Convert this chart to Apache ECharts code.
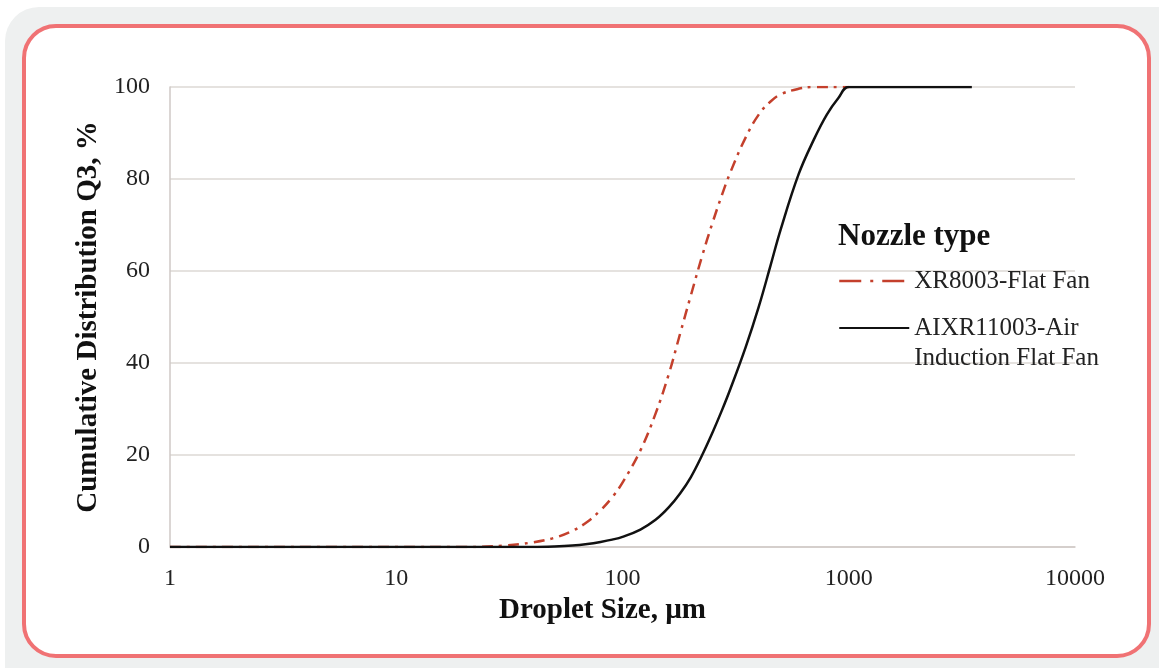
<!DOCTYPE html>
<html>
<head>
<meta charset="utf-8">
<title>Droplet size distribution</title>
<script src="https://cdn.jsdelivr.net/npm/echarts@6/dist/echarts.min.js"></script>
<style>
  html, body { margin: 0; padding: 0; background: #fff; }
  body { width: 1159px; height: 668px; position: relative; overflow: hidden; }
  .outer { position: absolute; left: 5px; top: 7px; width: 1190px; height: 700px; background: #eef0f0; border-radius: 34px; }
  .card { position: absolute; left: 22px; top: 24px; width: 1121px; height: 626px; background: #fff; border: 4px solid #f07274; border-radius: 34px; }
  #main { position: absolute; left: 0; top: 0; width: 1159px; height: 668px; }
</style>
</head>
<body>
<div class="outer"></div>
<div class="card"></div>
<div id="main"></div>
<script>
// droplet sizes (µm)
const sizes = [1, 10, 20, 30, 40, 50, 60, 70, 80, 90, 100, 120, 140, 160, 180, 200, 225, 250, 275, 300, 350, 400, 450, 500, 600, 700, 800, 900, 1000, 2000, 3500];

// cumulative distribution Q3 (%)
const flatFan = [0, 0, 0, 0.3, 1, 2, 3.5, 5.5, 8, 10.8, 14, 21, 29, 37.5, 46.5, 54.5, 63.3, 70.5, 76.5, 81.5, 89, 94, 96.8, 98.4, 99.6, 100, 100, 100, 100, null, null];
const airInduction = [0, 0, 0, 0, 0, 0.1, 0.3, 0.65, 1.1, 1.6, 2.2, 3.8, 5.9, 8.6, 11.7, 15.1, 20, 24.9, 29.7, 34.4, 43.4, 52.2, 61, 69, 81, 88.5, 94, 97.6, 100, 100, 100];

const seriesNames = ['XR8003-Flat Fan', 'AIXR11003-Air'];
const legendLabels = ['XR8003-Flat Fan', ' \nAIXR11003-Air\nInduction Flat Fan'];
const yTicks = [0, 20, 40, 60, 80, 100];

const serif = '"Liberation Serif", "Times New Roman", serif';
const myChart = echarts.init(document.getElementById('main'));

function pairs(vals) {
  return sizes.map((s, i) => [s, vals[i]]).filter(p => p[1] != null);
}

const options = {
  animation: false,
  textStyle: { fontFamily: serif },
  title: {
    text: 'Nozzle type',
    left: 833,
    top: 216,
    textStyle: { fontFamily: serif, fontSize: 31, fontWeight: 'bold', color: '#111' }
  },
  legend: {
    orient: 'vertical',
    left: 833,
    top: 261,
    itemWidth: 70,
    itemHeight: 14,
    itemGap: -13,
    itemStyle: { color: 'transparent', borderColor: 'transparent', borderWidth: 0, opacity: 0 },
    data: [
      { name: seriesNames[0], lineStyle: { type: [22, 9, 3, 9], width: 2.5 } },
      { name: seriesNames[1] }
    ],
    formatter: name => legendLabels[seriesNames.indexOf(name)],
    textStyle: { fontFamily: serif, fontSize: 25, color: '#222', lineHeight: 30 }
  },
  grid: { left: 170, right: 84, top: 87, bottom: 121 },
  xAxis: {
    type: 'log',
    logBase: 10,
    min: 1,
    max: 10000,
    name: 'Droplet Size, µm',
    nameLocation: 'middle',
    nameGap: 47,
    nameTextStyle: { fontFamily: serif, fontSize: 29, fontWeight: 'bold', color: '#111', padding: [0, 40, 0, 0] },
    axisLine: { lineStyle: { color: '#cfc9c6', width: 1.5 } },
    axisTick: { show: false },
    splitLine: { show: false },
    minorTick: { show: false },
    axisLabel: { fontFamily: serif, fontSize: 24, color: '#222', margin: 20, formatter: v => String(v) }
  },
  yAxis: {
    type: 'value',
    min: 0,
    max: 100,
    interval: 20,
    name: 'Cumulative Distribution Q3, %',
    nameLocation: 'middle',
    nameGap: 66,
    nameTextStyle: { fontFamily: serif, fontSize: 29, fontWeight: 'bold', color: '#111' },
    axisLine: { show: true, lineStyle: { color: '#cfc9c6', width: 1.5 } },
    axisTick: { show: false },
    splitLine: { lineStyle: { color: '#ddd8d5', width: 1.5 } },
    axisLabel: {
      fontFamily: serif, fontSize: 24, color: '#222', margin: 20,
      formatter: v => yTicks.includes(v) ? String(v) : ''
    }
  },
  series: [
    {
      name: seriesNames[0],
      type: 'line',
      data: pairs(flatFan),
      symbol: 'none',
      smooth: 0.4,
      z: 2,
      color: '#c4402c',
      lineStyle: { color: '#c4402c', width: 2.5, type: [11, 6, 3, 6] }
    },
    {
      name: seriesNames[1],
      type: 'line',
      data: pairs(airInduction),
      symbol: 'none',
      smooth: 0.4,
      z: 3,
      color: '#111',
      lineStyle: { color: '#111', width: 2.5, type: 'solid' }
    }
  ]
};

myChart.setOption(options);
</script>
</body>
</html>
